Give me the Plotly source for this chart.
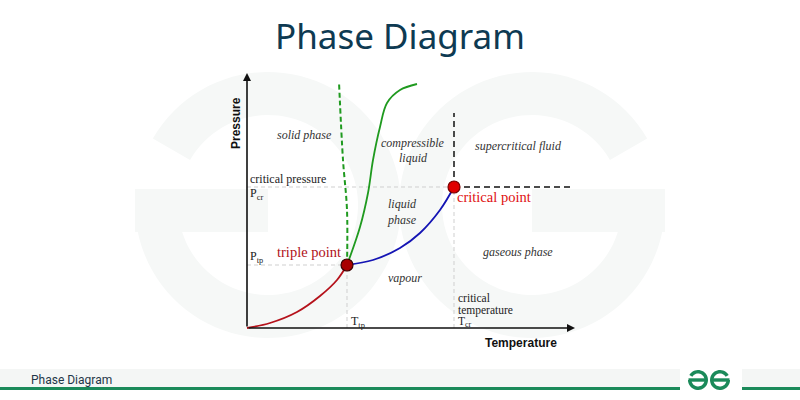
import numpy as np
import plotly.graph_objects as go

# ---------------- data (arbitrary temperature / pressure units) ----------------
sub_T = [0, 23, 50, 73, 90, 100]            # sublimation curve (solid-vapour)
sub_P = [0, 5, 16, 32, 48, 63]
vap_T = [100, 126, 153, 173, 193, 207]      # vaporisation curve (liquid-vapour)
vap_P = [63, 68, 80, 95, 118, 141]
melt_T = [100, 113, 121, 126, 133, 140, 153, 170]   # melting curve
melt_P = [63, 101, 135, 168, 201, 225, 238, 244]
melt_anom_T = [100, 100, 96, 92]           # anomalous (water) melting curve
melt_anom_P = [63, 118, 168, 246]
triple_T, triple_P = 100, 63
crit_T, crit_P = 207, 141
sc_T_end, sc_P_end = 323, 215
T_axis_end, P_axis_end = 328, 255

W, H = 800, 400
def px(x):
    return x / W
def py(y):
    return 1 - y / H

fig = go.Figure()

# ---------------- watermark & footer decorations ----------------
shapes = []
def sector(cx, cy, r_out, r_in, a0, a1, color, n=90):
    a = np.radians(np.linspace(a0, a1, n))
    xo = cx + r_out * np.cos(a); yo = cy - r_out * np.sin(a)
    xi = cx + r_in * np.cos(a[::-1]); yi = cy - r_in * np.sin(a[::-1])
    xs = np.concatenate([xo, xi]); ys = np.concatenate([yo, yi])
    d = "M " + " L ".join(f"{px(x):.5f},{py(y):.5f}" for x, y in zip(xs, ys)) + " Z"
    return dict(type="path", path=d, xref="paper", yref="paper",
                fillcolor=color, line=dict(width=0), layer="below")
def rect(x0, y0, x1, y1, color):
    return dict(type="rect", xref="paper", yref="paper", x0=px(x0), x1=px(x1),
                y0=py(y1), y1=py(y0), fillcolor=color, line=dict(width=0), layer="below")

wm = "#f6f8f7"
shapes.append(sector(268, 205, 133, 90, -180, 150, wm))
shapes.append(rect(135, 189, 268, 232, wm))
shapes.append(sector(532, 205, 133, 90, 30, 360, wm))
shapes.append(rect(532, 189, 665, 232, wm))

# footer band and line
shapes.append(rect(0, 369, 680, 388, "#f4f6f5"))
shapes.append(rect(742, 369, 800, 388, "#f4f6f5"))
green = "#1b8a5a"
shapes.append(rect(0, 387, 680, 390, green))
shapes.append(rect(742, 387, 800, 390, green))
# small logo
shapes.append(sector(698, 380, 10, 6.5, -180, 150, green, 40))
shapes.append(rect(688.5, 378.3, 707, 381.7, green))
shapes.append(sector(720, 380, 10, 6.5, 30, 360, green, 40))
shapes.append(rect(711, 378.3, 729.5, 381.7, green))

# ---------------- reference lines ----------------
fig.add_trace(go.Scatter(
    x=[0, triple_T, None, 0, crit_T, None, triple_T, triple_T, None, crit_T, crit_T],
    y=[triple_P, triple_P, None, crit_P, crit_P, None, 0, triple_P, None, 0, crit_P],
    mode="lines", line=dict(color="#cfcfcf", width=1, dash="4px,3px"), hoverinfo="skip"))
fig.add_trace(go.Scatter(
    x=[crit_T, crit_T, None, crit_T, sc_T_end],
    y=[crit_P, sc_P_end, None, crit_P, crit_P],
    mode="lines", line=dict(color="#111111", width=1.5, dash="6px,4px"), hoverinfo="skip"))

# ---------------- phase boundaries ----------------
fig.add_trace(go.Scatter(x=sub_T, y=sub_P, mode="lines",
                         line=dict(color="#b5121b", width=1.8, shape="spline")))
fig.add_trace(go.Scatter(x=vap_T, y=vap_P, mode="lines",
                         line=dict(color="#1414b4", width=1.8, shape="spline")))
fig.add_trace(go.Scatter(x=melt_T, y=melt_P, mode="lines",
                         line=dict(color="#1f9a1f", width=1.8, shape="spline")))
fig.add_trace(go.Scatter(x=melt_anom_T, y=melt_anom_P, mode="lines",
                         line=dict(color="#1f9a1f", width=2, dash="5px,3px", shape="spline")))

# ---------------- points ----------------
fig.add_trace(go.Scatter(x=[triple_T], y=[triple_P], mode="markers",
                         marker=dict(size=12, color="#a80000", line=dict(color="#3a0000", width=1.2))))
fig.add_trace(go.Scatter(x=[crit_T], y=[crit_P], mode="markers",
                         marker=dict(size=12, color="#e00000", line=dict(color="#7a0000", width=1.2))))

# ---------------- annotations ----------------
ann = []
# axes arrows
ann.append(dict(x=T_axis_end, y=0, ax=0, ay=0, xref="x", yref="y", axref="x", ayref="y",
                text="", showarrow=True, arrowhead=2, arrowsize=1, arrowwidth=1.6,
                arrowcolor="#111111", standoff=0, startstandoff=0))
ann.append(dict(x=0, y=P_axis_end, ax=0, ay=0, xref="x", yref="y", axref="x", ayref="y",
                text="", showarrow=True, arrowhead=2, arrowsize=1, arrowwidth=1.6,
                arrowcolor="#111111", standoff=0, startstandoff=0))

sans_b = "Liberation Sans"
serif = "Liberation Serif"
ann.append(dict(x=-11, y=205, xref="x", yref="y", text="<b>Pressure</b>", textangle=-90,
                showarrow=False, font=dict(family=sans_b, size=12, color="#111111")))
ann.append(dict(x=274, y=-15, xref="x", yref="y", text="<b>Temperature</b>",
                showarrow=False, font=dict(family=sans_b, size=12, color="#111111")))

def it(x, y, t):
    ann.append(dict(x=x, y=y, xref="x", yref="y", text="<i>" + t + "</i>", showarrow=False,
                    font=dict(family=serif, size=12, color="#333333")))
it(57, 193, "solid phase")
it(166, 185, "compressible")
it(166, 170, "liquid")
it(271, 182, "supercritical fluid")
it(155, 124, "liquid")
it(155, 108, "phase")
it(158, 50, "vapour")
it(271, 76, "gaseous phase")

def reg(x, y, t, size=12):
    ann.append(dict(x=x, y=y, xref="x", yref="y", text=t, showarrow=False, xanchor="left",
                    font=dict(family=serif, size=size, color="#222222")))
reg(1, 149, "critical pressure")
reg(1, 134, "P<sub>cr</sub>")
reg(1, 71, "P<sub>tp</sub>")
reg(102, 6, "T<sub>tp</sub>")
reg(209, 30, "critical", 11.5)
reg(209, 18, "temperature", 11.5)
reg(209, 6, "T<sub>cr</sub>", 11.5)

ann.append(dict(x=62, y=76, xref="x", yref="y", text="triple point", showarrow=False,
                font=dict(family=serif, size=14.5, color="#b01018")))
ann.append(dict(x=247, y=131, xref="x", yref="y", text="critical point", showarrow=False,
                font=dict(family=serif, size=14.5, color="#e01010")))

# title & footer text
ann.append(dict(x=0.5, y=py(35), xref="paper", yref="paper", text="Phase Diagram",
                yanchor="middle", showarrow=False,
                font=dict(family="Noto Sans", size=35, color="#0e3a52")))
ann.append(dict(x=px(29), y=py(380), xref="paper", yref="paper", text="Phase Diagram",
                xanchor="left", yanchor="middle", showarrow=False,
                font=dict(family="Roboto", size=12, color="#1f3648")))

fig.update_layout(
    width=W, height=H, margin=dict(l=0, r=0, t=0, b=0),
    paper_bgcolor="white", plot_bgcolor="rgba(0,0,0,0)",
    showlegend=False, shapes=shapes, annotations=ann,
    xaxis=dict(range=[-247, 553], visible=False, fixedrange=True),
    yaxis=dict(range=[-72, 328], visible=False, fixedrange=True),
)
fig.write_html("out.html", config={"displayModeBar": False},
               post_script="document.body.style.margin='0';")
